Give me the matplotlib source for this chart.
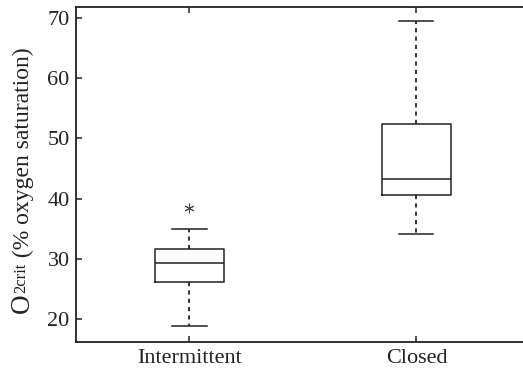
import matplotlib
matplotlib.use("Agg")
import matplotlib.pyplot as plt
from matplotlib.transforms import IdentityTransform

plt.rcParams['font.family'] = ['Liberation Serif', 'DejaVu Serif']
plt.rcParams['lines.scale_dashes'] = False

# O2crit summary per ventilation group
groups = ["Intermittent", "Closed"]
whislo = [18.8, 34.1]
q1 = [26.2, 40.6]
med = [29.35, 43.25]
q3 = [31.6, 52.3]
whishi = [34.9, 69.5]
outliers = [[38.4], []]

ink = '#222222'

stats = []
for i, g in enumerate(groups):
    stats.append(dict(label=g, whislo=whislo[i], q1=q1[i], med=med[i],
                      q3=q3[i], whishi=whishi[i], fliers=outliers[i]))

fig = plt.figure(figsize=(5.23, 3.71), dpi=100)
ax = fig.add_axes([0.1453, 0.0782, 0.868, 0.9029])

ax.bxp(stats, positions=[1, 2], widths=0.30, showfliers=True,
       boxprops=dict(color=ink, linewidth=1.1),
       medianprops=dict(color=ink, linewidth=1.1),
       whiskerprops=dict(color=ink, linewidth=1.3, linestyle=(0, (3, 3))),
       capprops=dict(color=ink, linewidth=1.1),
       capwidths=0.15,
       flierprops=dict(marker=(6, 2, 0), markersize=7, markeredgewidth=0.7,
                       markeredgecolor='#444444', markerfacecolor='none'))

ax.set_xlim(0.5, 2.5)
ax.set_ylim(16.18, 71.8)
ax.set_yticks([20, 30, 40, 50, 60, 70])
ax.set_xticks([1, 2])
ax.set_xticklabels(groups)

for side in ['left', 'bottom', 'top']:
    ax.spines[side].set_linewidth(1.3)
    ax.spines[side].set_color(ink)
ax.spines['right'].set_visible(False)

ax.tick_params(axis='both', direction='in', length=4, width=1.1, color=ink,
               labelsize=16, labelcolor=ink)
ax.tick_params(axis='y', pad=4.5)
ax.tick_params(axis='x', pad=5, top=True)

# y label built from pieces: "O", raised small "2crit", then the rest
pieces = [("O", 19.5, 0), ("2crit", 12, 4), (" (% oxygen saturation)", 17, 0)]
x_base, y_pos = 29, 58
fig.canvas.draw()
renderer = fig.canvas.get_renderer()
for s, size, lift in pieces:
    t = fig.text(x_base - lift, y_pos, s, rotation=90, rotation_mode='anchor',
                 ha='left', va='baseline', fontsize=size, color=ink,
                 transform=IdentityTransform())
    y_pos += t.get_window_extent(renderer).height

fig.savefig('out.png', dpi=100)
